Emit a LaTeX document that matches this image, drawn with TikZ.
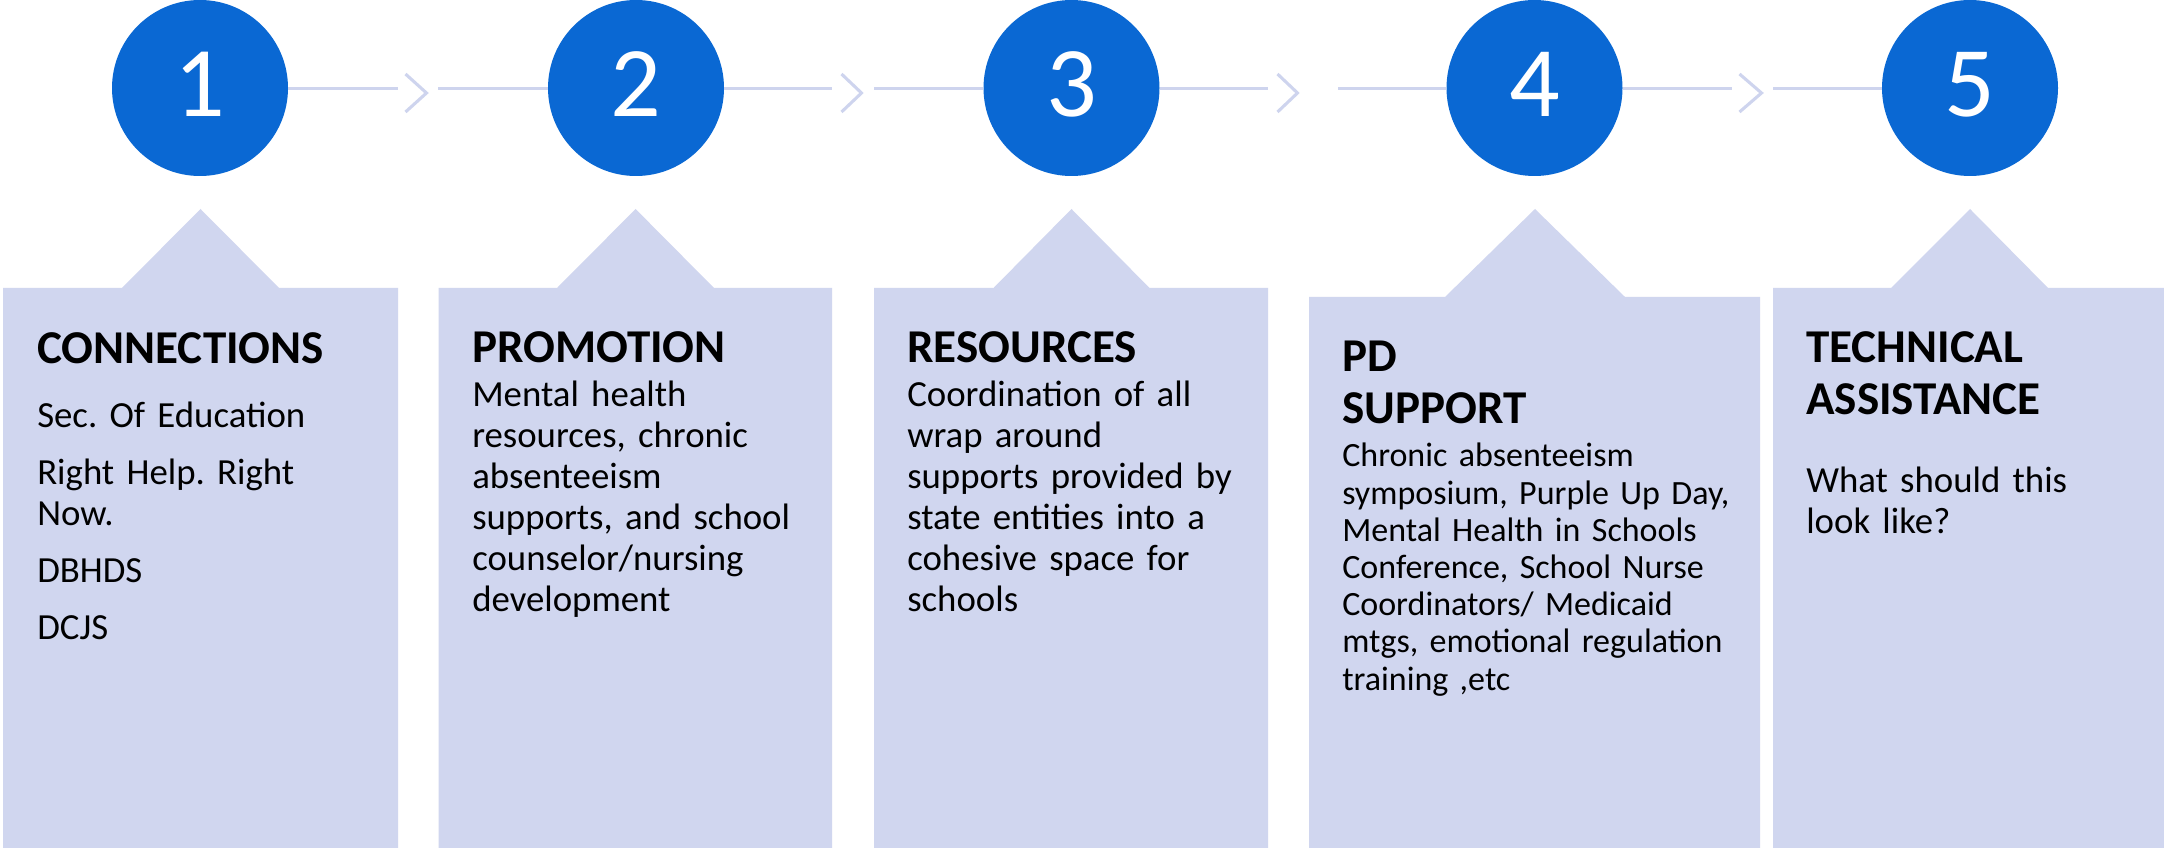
\documentclass[tikz,border=0pt]{standalone}
\usepackage{fontspec}
\setmainfont{Carlito}
\frenchspacing
\definecolor{stepblue}{RGB}{10,104,211}
\definecolor{boxfill}{RGB}{208,214,239}
\definecolor{flowline}{RGB}{206,212,238}
\begin{document}
\begin{tikzpicture}[x=0.75pt,y=-0.75pt,
  numcircle/.style={circle,fill=stepblue,minimum size=132pt,inner sep=0pt},
  numtext/.style={text=white,font=\fontsize{75pt}{80pt}\selectfont,inner sep=0pt,anchor=base},
  flow/.style={draw=flowline,line width=2.3pt},
  chev/.style={draw=flowline,line width=2.3pt,line cap=butt,line join=miter},
  panel/.style={fill=boxfill},
  head/.style={anchor=base west,inner sep=0pt,font=\bfseries\fontsize{35.3pt}{39pt}\selectfont,text width=360pt,align=left},
  body/.style={anchor=base west,inner sep=0pt,font=\fontsize{27.6pt}{30.75pt}\selectfont,text width=360pt,align=left},
  bodysmall/.style={anchor=base west,inner sep=0pt,font=\fontsize{25.5pt}{27.9pt}\selectfont,text width=360pt,align=left}
]
\useasboundingbox (0,0) rectangle (2164,848);
\fill[white] (0,0) rectangle (2164,848);

% panels
\fill[panel] (3,848) -- (3,288) -- (122,288) -- (200.5,209) -- (279,288) -- (398,288) -- (398,848) -- cycle;
\fill[panel] (438.5,848) -- (438.5,288) -- (557,288) -- (635.6,209) -- (714,288) -- (832,288) -- (832,848) -- cycle;
\fill[panel] (874,848) -- (874,288) -- (993.5,288) -- (1071.5,209) -- (1149.5,288) -- (1268,288) -- (1268,848) -- cycle;
\fill[panel] (1309,848) -- (1309,297) -- (1445,297) -- (1535,209) -- (1625,297) -- (1760,297) -- (1760,848) -- cycle;
\fill[panel] (1773,848) -- (1773,288) -- (1891,288) -- (1970,209) -- (2048,288) -- (2164,288) -- (2164,848) -- cycle;

% circles
\node[numcircle] (c1) at (200,88) {};
\node[numcircle] (c2) at (636,88) {};
\node[numcircle] (c3) at (1071.5,88) {};
\node[numcircle] (c4) at (1534.5,88) {};
\node[numcircle] (c5) at (1970,88) {};
\node[numtext] (n1) at (200,117) {1};
\node[numtext] (n2) at (636,117) {2};
\node[numtext] (n3) at (1071.5,117) {3};
\node[numtext] (n4) at (1534.5,117) {4};
\node[numtext] (n5) at (1970,117) {5};

% connector end points
\coordinate (a1) at (398,88.5);
\coordinate (b1) at (438,88.5);
\coordinate (a2) at (832,88.5);
\coordinate (b2) at (874,88.5);
\coordinate (a3) at (1268,88.5);
\coordinate (b3) at (1338,88.5);
\coordinate (a4) at (1732,88.5);
\coordinate (b4) at (1773,88.5);

\draw[flow] (c1.east |- a1) -- (a1);
\draw[flow] (b1) -- (c2.west |- b1);
\draw[flow] (c2.east |- a2) -- (a2);
\draw[flow] (b2) -- (c3.west |- b2);
\draw[flow] (c3.east |- a3) -- (a3);
\draw[flow] (b3) -- (c4.west |- b3);
\draw[flow] (c4.east |- a4) -- (a4);
\draw[flow] (b4) -- (c5.west |- b4);

% chevrons
\draw[chev] (405.5,74) -- (426.5,93) -- (405.5,112);
\draw[chev] (841.5,74) -- (861.5,93) -- (841.5,112);
\draw[chev] (1277.5,74) -- (1297.5,93) -- (1277.5,112);
\draw[chev] (1739.5,74) -- (1761.5,93) -- (1739.5,112);

% texts
\node[head] (h1) at (37,363.5) {CONNECTIONS};
\node[body] (t1) at (37,428) {Sec. Of Education\\[12pt]Right Help. Right\\Now.\\[11.5pt]DBHDS\\[12.5pt]DCJS};

\node[head] (h2) at (472,363) {PROMOTION};
\node[body] (t2) at (472,407) {Mental health\\resources, chronic\\absenteeism\\supports, and school\\counselor/nursing\\development};

\node[head] (h3) at (907,363) {RESOURCES};
\node[body] (t3) at (907,407) {Coordination of all\\wrap around\\supports provided by\\state entities into a\\cohesive space for\\schools};

\node[head] (h4) at (1342,372) {PD\\SUPPORT};
\node[bodysmall] (t4) at (1342,467) {Chronic absenteeism\\symposium, Purple Up Day,\\Mental Health in Schools\\Conference, School Nurse\\Coordinators/ Medicaid\\mtgs, emotional regulation\\training ,etc};

\node[head] (h5) at (1806,363) {TECHNICAL\\ASSISTANCE};
\node[body] (t5) at (1806,493) {What should this\\look like?};
\end{tikzpicture}
\end{document}
